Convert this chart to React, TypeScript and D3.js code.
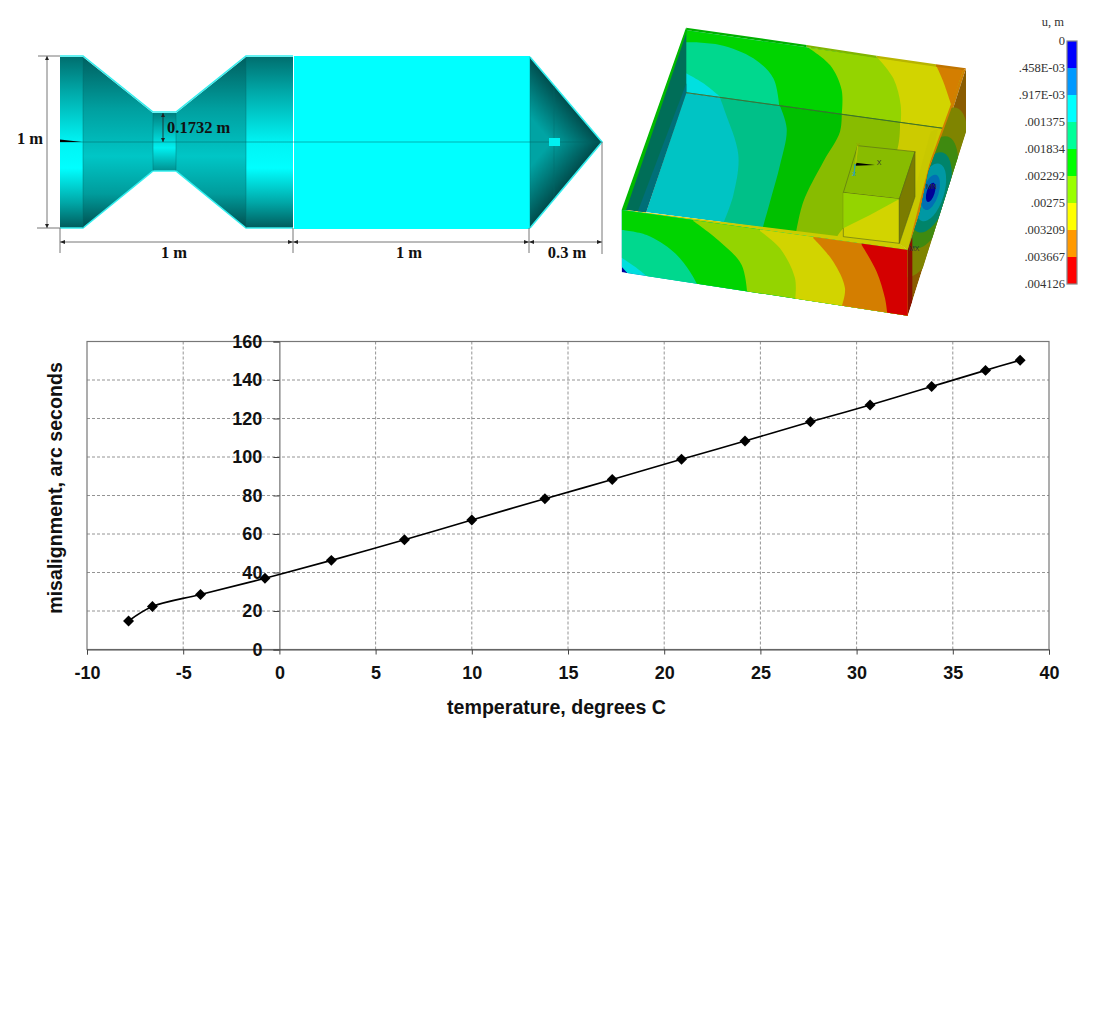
import { useEffect, useRef } from 'react';
import * as d3 from 'd3';

// chart values
const temperature = [-7.84, -6.6, -4.1, -0.75, 2.7, 6.5, 10, 13.8, 17.3, 20.9, 24.2, 27.6, 30.7, 33.9, 36.7, 38.5];
const misalignment = [14.8, 22.3, 28.6, 37, 46.3, 57, 67.3, 78.3, 88.3, 98.8, 108.3, 118.3, 127, 136.6, 145, 150.3];
const xTicks = [-10, -5, 0, 5, 10, 15, 20, 25, 30, 35, 40];
const yTicks = [0, 20, 40, 60, 80, 100, 120, 140, 160];

// contour legend
const legendLabels = ['0', '.458E-03', '.917E-03', '.001375', '.001834', '.002292', '.00275', '.003209', '.003667', '.004126'];
const legendColors = ['#0000ff', '#0099ff', '#00ffff', '#00ff99', '#00ff00', '#99ff00', '#ffff00', '#ff9900', '#ff0000'];

type Pt = [number, number];

// FEA picture outlines, in units of the sketch grid (see gx / gy)
const outerWall: Pt[] = [[224, 45], [1060, 165], [1000, 340], [224, 233]];
const floorFace: Pt[] = [[228, 233], [1000, 340], [870, 690], [108, 592]];
const frontFace: Pt[] = [[35, 585], [893, 705], [893, 902], [35, 772]];
const sideFace: Pt[] = [[1068, 160], [1068, 350], [893, 902], [893, 705]];
const sideClip: Pt[] = [[1068, 160], [1068, 350], [893, 902], [893, 705], [930, 590], [955, 470]];

const wallBands: { color: string; curve: Pt[] }[] = [
  { color: '#00d88e', curve: [[228, 175], [280, 205], [330, 245]] },
  { color: '#00d400', curve: [[228, 82], [330, 90], [430, 130], [490, 190], [508, 275]] },
  { color: '#94d400', curve: [[590, 95], [660, 150], [695, 225], [695, 300]] },
  { color: '#d2d400', curve: [[800, 125], [850, 190], [872, 270], [872, 330]] },
  { color: '#d47e00', curve: [[978, 150], [1000, 200], [1024, 270]] },
];
const floorBands: { color: string; curve: Pt[] }[] = [
  { color: '#00c088', curve: [[325, 235], [345, 290], [385, 420], [370, 540], [338, 630]] },
  { color: '#00c000', curve: [[505, 262], [530, 340], [510, 450], [480, 560], [455, 650]] },
  { color: '#88bc00', curve: [[695, 290], [690, 350], [640, 440], [580, 560], [556, 665]] },
  { color: '#cccb00', curve: [[870, 325], [865, 390], [800, 570], [700, 640], [672, 680]] },
];
const frontBands: { color: string; curve: Pt[] }[] = [
  { color: '#00dede', curve: [[35, 755], [55, 778]] },
  { color: '#00d88e', curve: [[35, 728], [75, 755], [125, 795]] },
  { color: '#00d400', curve: [[35, 645], [110, 660], [190, 710], [240, 770], [265, 815]] },
  { color: '#94d400', curve: [[250, 618], [330, 680], [395, 750], [412, 840]] },
  { color: '#d2d400', curve: [[450, 648], [510, 700], [555, 790], [555, 860]] },
  { color: '#d47e00', curve: [[610, 670], [670, 740], [705, 820], [695, 875]] },
  { color: '#d40000', curve: [[755, 690], [800, 770], [825, 850], [832, 898]] },
];
const sideRings = [
  { color: '#7f8400', rx: 42, ry: 265 },
  { color: '#3f8a10', rx: 34, ry: 175 },
  { color: '#00846a', rx: 27, ry: 125 },
  { color: '#0098a4', rx: 20, ry: 90 },
  { color: '#0070b4', rx: 12, ry: 55 },
  { color: '#000098', rx: 6, ry: 30 },
];

const gx = (v: number) => 610 + v / 3;
const gy = (v: number) => 15 + v / 3;
const project = (pts: Pt[]): Pt[] => pts.map(([a, b]) => [gx(a), gy(b)]);
const poly = (pts: Pt[]) => 'M' + project(pts).join('L') + 'Z';

const bandPath = (curve: Pt[]) => {
  const smooth = d3.line().curve(d3.curveCatmullRom)(project(curve)) as string;
  const [sx, sy] = project(curve)[0];
  return `${smooth}L1100,1000L1100,0L${sx},0L${sx},${sy}Z`;
};

const Bands = ({ id, face, base, bands }: { id: string; face: Pt[]; base: string; bands: { color: string; curve: Pt[] }[] }) => (
  <g>
    <clipPath id={id}>
      <path d={poly(face)} />
    </clipPath>
    <g clipPath={`url(#${id})`}>
      <path d={poly(face)} fill={base} />
      {bands.map((b) => (
        <path key={b.color} d={bandPath(b.curve)} fill={b.color} />
      ))}
    </g>
  </g>
);

const Fea = () => (
  <g>
    <Bands id="wall" face={outerWall} base="#00e0e0" bands={wallBands} />
    <Bands id="floor" face={floorFace} base="#00c4c4" bands={floorBands} />
    {/* left inner wall */}
    <path d={poly([[229, 45], [229, 233], [108, 592], [45, 585]])} fill="#006e58" />
    <path d={poly([[229, 205], [229, 233], [108, 592], [83, 590]])} fill="#006f78" />
    <path d={poly([[228, 233], [1000, 340]])} fill="none" stroke="#3c6a2c" strokeWidth={0.7} />
    {/* rim */}
    <path d={poly([[228, 38], [35, 585], [48, 585], [232, 45]])} fill="#00b800" />
    <path d={poly([[228, 38], [590, 90], [590, 97], [232, 46]])} fill="#00b000" />
    <path d={poly([[590, 90], [800, 122], [800, 129], [590, 97]])} fill="#80b400" />
    <path d={poly([[800, 122], [978, 148], [978, 155], [800, 129]])} fill="#b8b400" />
    <path d={poly([[978, 148], [1068, 160], [1060, 166], [978, 155]])} fill="#c07400" />
    <path d={poly([[1068, 160], [893, 705], [870, 686], [1060, 166]])} fill="#d08000" />
    <path d={poly([[985, 340], [893, 705], [870, 686], [962, 350]])} fill="#c8c800" />
    <path d={poly([[35, 585], [893, 705], [870, 686], [48, 585]])} fill="#cccc00" />
    <path d={poly([[35, 585], [250, 615], [250, 621], [48, 590]])} fill="#00b800" />
    <path d={poly([[250, 615], [450, 644], [450, 650], [250, 621]])} fill="#88c000" />
    {/* box */}
    <path d={poly([[743, 392], [915, 410], [868, 552], [700, 533]])} fill="#88bc00" stroke="#55661a" strokeWidth={0.6} />
    <path d={poly([[700, 533], [868, 552], [868, 685], [700, 665]])} fill="#d2d400" stroke="#55661a" strokeWidth={0.6} />
    <path d={poly([[700, 533], [868, 552], [780, 600], [700, 640]])} fill="#94d400" />
    <path d={poly([[915, 410], [915, 545], [868, 685], [868, 552]])} fill="#7b7c00" stroke="#55661a" strokeWidth={0.6} />
    {/* triad */}
    <path d={poly([[737, 443], [795, 450], [737, 452]])} fill="#000" />
    <path d={poly([[737, 447], [743, 392]])} stroke="#b4c400" strokeWidth={0.8} />
    <path d={poly([[735, 447], [732, 480]])} stroke="#2a9fc0" strokeWidth={0.8} />
    <text x={gx(800)} y={gy(451)} fontSize={7} fill="#333" fontFamily="Liberation Sans">X</text>
    <text x={gx(739)} y={gy(396)} fontSize={6} fill="#9aa000" fontFamily="Liberation Sans">Y</text>
    <text x={gx(726)} y={gy(484)} fontSize={6} fill="#2a9fc0" fontFamily="Liberation Sans">Z</text>
    {/* outside */}
    <Bands id="front" face={frontFace} base="#00009c" bands={frontBands} />
    <clipPath id="side">
      <path d={poly(sideClip)} />
    </clipPath>
    <g clipPath="url(#side)">
      <path d={poly(sideFace)} fill="#8a5c00" />
      {sideRings.map((r) => (
        <ellipse
          key={r.color}
          cx={gx(962)}
          cy={gy(532)}
          rx={r.rx / 1.5}
          ry={r.ry / 3}
          fill={r.color}
          transform={`rotate(17 ${gx(962)} ${gy(532)})`}
        />
      ))}
      <path d={poly([[893, 705], [907, 665], [907, 860], [893, 902]])} fill="#8a1000" />
    </g>
    <text x={gx(948)} y={gy(521)} fontSize={7} fill="#333" fontFamily="Liberation Sans">MN</text>
    <text x={gx(897)} y={gy(708)} fontSize={7} fill="#333" fontFamily="Liberation Sans">MX</text>
  </g>
);

const centre = 142;
const Nozzle = () => {
  const dim = '#777';
  return (
    <g>
      <defs>
        <linearGradient id="cyl" x1="0" x2="0" y1="0" y2="1">
          <stop offset="0" stopColor="#006f6f" />
          <stop offset="0.22" stopColor="#00adad" />
          <stop offset="0.5" stopColor="#00f4f4" />
          <stop offset="0.65" stopColor="#00ffff" />
          <stop offset="0.85" stopColor="#00a8a8" />
          <stop offset="1" stopColor="#005c5c" />
        </linearGradient>
        <linearGradient id="cone" x1="0" x2="0" y1="0" y2="1">
          <stop offset="0.02" stopColor="#006464" />
          <stop offset="0.3" stopColor="#009f9f" />
          <stop offset="0.58" stopColor="#00c6c6" />
          <stop offset="0.8" stopColor="#009c9c" />
          <stop offset="0.98" stopColor="#005656" />
        </linearGradient>
        <linearGradient id="throat" x1="0" x2="0" y1="0" y2="1">
          <stop offset="0" stopColor="#008080" />
          <stop offset="0.6" stopColor="#00f0f0" />
          <stop offset="1" stopColor="#008f8f" />
        </linearGradient>
        <linearGradient id="noseTop" gradientUnits="userSpaceOnUse" x1={566} y1={99} x2={536} y2={124}>
          <stop offset="0" stopColor="#004c4c" />
          <stop offset="1" stopColor="#00a4a4" />
        </linearGradient>
        <linearGradient id="noseBottom" gradientUnits="userSpaceOnUse" x1={566} y1={185} x2={536} y2={160}>
          <stop offset="0" stopColor="#004c4c" />
          <stop offset="1" stopColor="#00a4a4" />
        </linearGradient>
      </defs>
      <rect x={60} y={57} width={23} height={171} fill="url(#cyl)" />
      <path d="M83,57L153,113V171L83,228Z" fill="url(#cone)" />
      <rect x={153} y={113} width={23} height={58} fill="url(#throat)" />
      <path d="M176,113L246,57V228L176,171Z" fill="url(#cone)" />
      <rect x={246} y={57} width={47} height={171} fill="url(#cyl)" />
      <rect x={294} y={56} width={236} height={173} fill="#00ffff" />
      <path d="M530,57L602,142H530Z" fill="url(#noseTop)" />
      <path d="M530,228L602,142H530Z" fill="url(#noseBottom)" />
      <path d="M60,56H83L153,112H176L246,56H293M60,228H83L153,171H176L246,228H293M530,57L602,142L530,228" fill="none" stroke="#33eeee" strokeWidth={1.6} />
      <path d="M83,57V228M246,57V228M153,113V171M176,113V171M554,86V198M530,57V228" stroke="#006a6a" strokeOpacity={0.5} strokeWidth={0.8} fill="none" />
      <path d={`M60,${centre}H602`} stroke="#005f5f" strokeOpacity={0.6} strokeWidth={0.8} />
      <rect x={549} y={138} width={11} height={8} fill="#00f0f0" />
      <path d="M60,139.5L82,142L60,142Z" fill="#000" />

      {/* dimensions */}
      <path d="M38,56H60M37,228H60M47,56V228M60,228V253M293,228V253M529,228V253M602,142V254M60,242H293M293,242H529M529,242H602" stroke={dim} strokeWidth={1} fill="none" />
      <path d="M163,113V142" stroke="#222" strokeWidth={0.8} />
      <path d="M47,56l-2,4h4ZM47,228l-2,-4h4ZM60,242l5,-2v4ZM293,242l-5,-2v4ZM293,242l5,-2v4ZM529,242l-5,-2v4ZM529,242l5,-2v4ZM602,242l-5,-2v4ZM163,113l-2,4h4ZM163,142l-2,-4h4Z" fill="#222" />
      <g fontFamily="Liberation Serif" fontWeight="bold" fontSize={16.5} fill="#111">
        <text x={30} y={143.5} textAnchor="middle">1 m</text>
        <text x={167} y={133}>0.1732 m</text>
        <text x={174} y={258} textAnchor="middle">1 m</text>
        <text x={409} y={258} textAnchor="middle">1 m</text>
        <text x={567} y={258} textAnchor="middle">0.3 m</text>
      </g>
    </g>
  );
};

const Legend = () => {
  const y = d3.scaleLinear().domain([0, legendColors.length]).range([41, 284]);
  return (
    <g>
      <text x={1064} y={26} textAnchor="end" fontFamily="Liberation Serif" fontSize={12.5} fill="#333">u, m</text>
      {legendColors.map((c, i) => (
        <rect key={c} x={1067} y={y(i)} width={10} height={y(i + 1) - y(i)} fill={c} />
      ))}
      <rect x={1067} y={41} width={10} height={243} fill="none" stroke="#888" strokeWidth={1.2} />
      {legendLabels.map((l, i) => (
        <text key={l} x={1065} y={y(i) + 4} textAnchor="end" fontFamily="Liberation Serif" fontSize={12.5} fill="#333">{l}</text>
      ))}
    </g>
  );
};

const Chart = () => {
  const ref = useRef<SVGGElement>(null);

  useEffect(() => {
    if (!ref.current) return;
    const g = d3.select(ref.current);
    g.selectAll('*').remove();

    const x = d3.scaleLinear().domain([-10, 40]).range([87, 1049]);
    const y = d3.scaleLinear().domain([0, 160]).range([649.5, 341.5]);

    const grid = g.append('g').attr('stroke', '#888').attr('stroke-width', 0.9).attr('stroke-dasharray', '3,2');
    xTicks.filter((t) => t !== -10 && t !== 0 && t !== 40).forEach((t) => {
      grid.append('line').attr('x1', x(t)).attr('x2', x(t)).attr('y1', y(160)).attr('y2', y(0));
    });
    yTicks.filter((t) => t !== 0 && t !== 160).forEach((t) => {
      grid.append('line').attr('x1', x(-10)).attr('x2', x(40)).attr('y1', y(t)).attr('y2', y(t));
    });

    g.append('rect')
      .attr('x', x(-10))
      .attr('y', y(160))
      .attr('width', x(40) - x(-10))
      .attr('height', y(0) - y(160))
      .attr('fill', 'none')
      .attr('stroke', '#777')
      .attr('stroke-width', 1.2);

    const xAxis = g
      .append('g')
      .attr('transform', `translate(0,${y(0)})`)
      .call(d3.axisBottom(x).tickValues(xTicks).tickSize(5).tickPadding(12).tickFormat((d) => String(d)));
    const yAxis = g
      .append('g')
      .attr('transform', `translate(${x(0)},0)`)
      .call(d3.axisLeft(y).tickValues(yTicks).tickSize(6).tickPadding(11).tickFormat((d) => String(d)));

    [xAxis, yAxis].forEach((a) => {
      a.selectAll('text')
        .style('font-family', 'Liberation Sans')
        .style('font-weight', 'bold')
        .style('font-size', '18px')
        .attr('fill', '#111');
      a.selectAll('line').attr('stroke', '#444');
      a.select('.domain').attr('stroke', '#555');
    });

    const points = temperature.map((t, i) => [x(t), y(misalignment[i])] as Pt);
    g.append('path')
      .attr('d', d3.line().curve(d3.curveCatmullRom)(points))
      .attr('fill', 'none')
      .attr('stroke', '#000')
      .attr('stroke-width', 1.6);

    const diamond = d3.symbol().type(d3.symbolSquare).size(60);
    g.selectAll('.marker')
      .data(points)
      .enter()
      .append('path')
      .attr('class', 'marker')
      .attr('d', diamond)
      .attr('transform', (d) => `translate(${d[0]},${d[1]}) rotate(45)`)
      .attr('fill', '#000');

    g.append('text')
      .attr('x', 556.5)
      .attr('y', 714)
      .attr('text-anchor', 'middle')
      .style('font-family', 'Liberation Sans')
      .style('font-weight', 'bold')
      .style('font-size', '19.6px')
      .attr('fill', '#111')
      .text('temperature, degrees C');

    g.append('text')
      .attr('transform', 'translate(62,488) rotate(-90)')
      .attr('text-anchor', 'middle')
      .style('font-family', 'Liberation Sans')
      .style('font-weight', 'bold')
      .style('font-size', '19.6px')
      .attr('fill', '#111')
      .text('misalignment, arc seconds');
  }, []);

  return <g ref={ref} />;
};

export default function App() {
  return (
    <svg width={1100} height={1036} style={{ position: 'absolute', left: 0, top: 0, background: '#fff' }}>
      <Nozzle />
      <Fea />
      <Legend />
      <Chart />
    </svg>
  );
}
